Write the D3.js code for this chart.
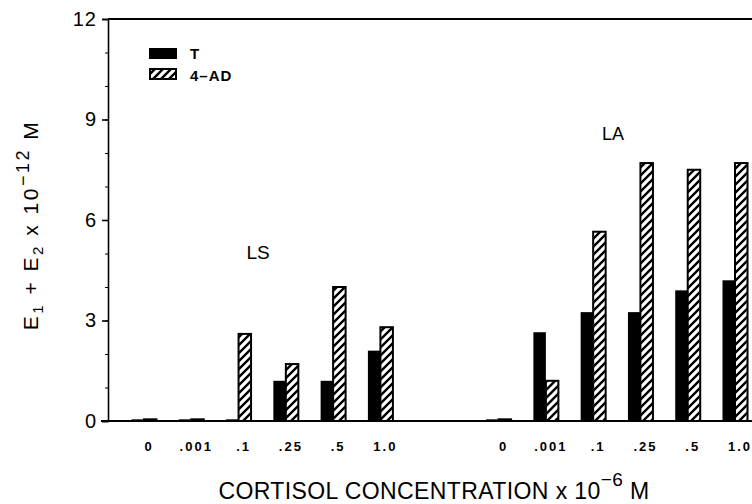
<!DOCTYPE html>
<html>
<head>
<meta charset="utf-8">
<script src="https://cdn.jsdelivr.net/npm/d3@7"></script>
<style>
  body { margin: 0; background: #fff; }
  svg { font-family: "Liberation Sans", Arial, sans-serif; }
</style>
</head>
<body>
<div id="chart"></div>
<script>
var concentrations = ["0", ".001", ".1", ".25", ".5", "1.0"];
var groups = ["LS", "LA"];
var lsT = [0.05, 0.05, 0.05, 1.2, 1.2, 2.1];
var lsAD = [0.05, 0.05, 2.6, 1.7, 4.0, 2.8];
var laT = [0.05, 2.65, 3.25, 3.25, 3.9, 4.2];
var laAD = [0.05, 1.2, 5.65, 7.7, 7.5, 7.7];
var yTicks = [0, 3, 6, 9, 12];

var width = 752, height = 504;

var svg = d3.select("#chart").append("svg")
    .attr("width", width)
    .attr("height", height);

// hatch pattern for 4-AD
var defs = svg.append("defs");
var pat = defs.append("pattern")
    .attr("id", "hatch")
    .attr("patternUnits", "userSpaceOnUse")
    .attr("width", 8)
    .attr("height", 8);
pat.append("rect").attr("width", 8).attr("height", 8).attr("fill", "#fff");
pat.append("path")
    .attr("d", "M-2,2 L2,-2 M0,8 L8,0 M6,10 L10,6")
    .attr("stroke", "#000")
    .attr("stroke-width", 2.4);

// index along x: LS 0..5, LA 7.5..12.5
var x = d3.scaleLinear().domain([0, 12.5]).range([144, 735]);
var y = d3.scaleLinear().domain([0, 12]).range([421, 19]);
var barW = 12.5;

var rows = [];
[[lsT, lsAD], [laT, laAD]].forEach(function (s, g) {
    concentrations.forEach(function (c, k) {
        rows.push({ group: groups[g], conc: c, idx: g * 7.5 + k, t: s[0][k], ad: s[1][k] });
    });
});

// top frame line
svg.append("line").attr("x1", 108).attr("x2", width).attr("y1", y(12)).attr("y2", y(12))
    .attr("stroke", "#000").attr("stroke-width", 2);

// bars
var bar = svg.selectAll(".bar").data(rows).enter().append("g").attr("class", "bar");
bar.append("rect")
    .attr("x", function (d) { return x(d.idx) - barW; })
    .attr("y", function (d) { return y(d.t); })
    .attr("width", barW)
    .attr("height", function (d) { return y(0) - y(d.t); })
    .attr("fill", "#000");
bar.append("rect")
    .attr("x", function (d) { return x(d.idx); })
    .attr("y", function (d) { return y(d.ad); })
    .attr("width", barW)
    .attr("height", function (d) { return y(0) - y(d.ad); })
    .attr("fill", "url(#hatch)")
    .attr("stroke", "#000")
    .attr("stroke-width", 2);

// y axis, major and minor ticks
var yAxis = svg.append("g").attr("transform", "translate(108,0)")
    .call(d3.axisLeft(y).tickValues(yTicks).tickSize(6).tickPadding(5).tickFormat(d3.format("d")));
yAxis.select(".domain").attr("stroke-width", 1.6);
yAxis.selectAll(".tick line").attr("stroke-width", 1.6);
yAxis.selectAll("text").attr("font-size", 20).attr("letter-spacing", 1).attr("fill", "#000");

svg.append("g").attr("transform", "translate(108,0)")
    .call(d3.axisLeft(y).tickValues(d3.range(0, 13)).tickSize(3).tickFormat(""))
    .select(".domain").remove();

// x axis baseline
svg.append("line").attr("x1", 101).attr("x2", width).attr("y1", y(0)).attr("y2", y(0))
    .attr("stroke", "#000").attr("stroke-width", 2.2);

// x category labels
svg.selectAll(".xlab").data(rows).enter().append("text")
    .attr("x", function (d) { return x(d.idx) + 5; })
    .attr("y", 451)
    .attr("text-anchor", "middle")
    .attr("font-size", 13)
    .attr("font-weight", "bold")
    .attr("letter-spacing", 2)
    .text(function (d) { return d.conc; });

// group labels
svg.append("text").attr("x", 258).attr("y", 259).attr("text-anchor", "middle")
    .attr("font-size", 19).text(groups[0]);
svg.append("text").attr("x", 613).attr("y", 140).attr("text-anchor", "middle")
    .attr("font-size", 18).text(groups[1]);

// legend
var leg = svg.append("g");
leg.append("rect").attr("x", 149).attr("y", 48).attr("width", 28).attr("height", 11).attr("fill", "#000");
leg.append("rect").attr("x", 150).attr("y", 69).attr("width", 26).attr("height", 10)
    .attr("fill", "url(#hatch)").attr("stroke", "#000").attr("stroke-width", 2);
leg.append("text").attr("x", 190).attr("y", 59).attr("font-size", 15).attr("font-weight", "bold").text("T");
leg.append("text").attr("x", 190).attr("y", 81).attr("font-size", 15).attr("font-weight", "bold")
    .attr("letter-spacing", 1).text("4\u2013AD");

// axis titles
var xt = svg.append("text").attr("x", 434).attr("y", 499).attr("text-anchor", "middle")
    .attr("font-size", 23).attr("letter-spacing", 0.4);
xt.append("tspan").text("CORTISOL CONCENTRATION x 10");
xt.append("tspan").attr("dy", -13).attr("font-size", 19).text("\u22126");
xt.append("tspan").attr("dy", 13).text(" M");

var yt = svg.append("text").attr("transform", "translate(38,225) rotate(-90)")
    .attr("text-anchor", "middle").attr("font-size", 21).attr("letter-spacing", 2.5);
yt.append("tspan").text("E");
yt.append("tspan").attr("dy", 5).attr("font-size", 15).text("1");
yt.append("tspan").attr("dy", -5).text(" + E");
yt.append("tspan").attr("dy", 5).attr("font-size", 15).text("2");
yt.append("tspan").attr("dy", -5).text(" x 10");
yt.append("tspan").attr("dy", -9).attr("font-size", 18).text("\u221212");
yt.append("tspan").attr("dy", 9).text(" M");
</script>
</body>
</html>
